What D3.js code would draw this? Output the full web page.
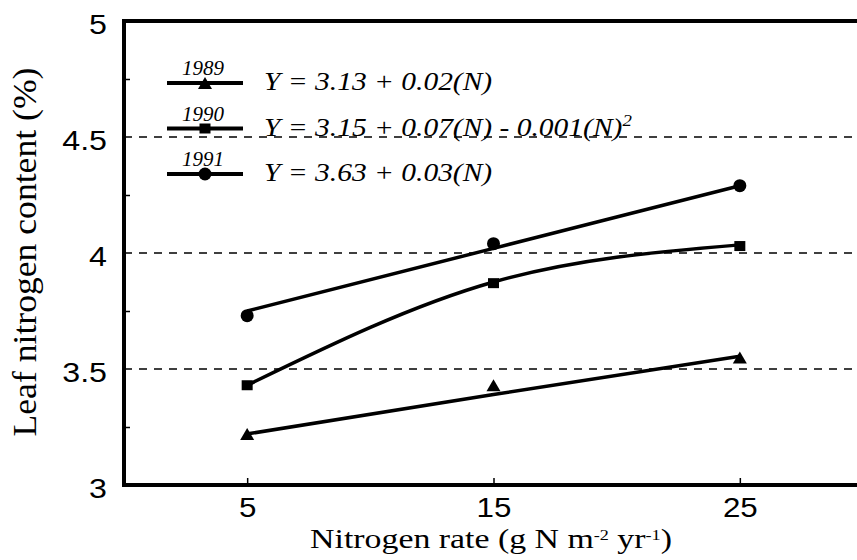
<!DOCTYPE html>
<html>
<head>
<meta charset="utf-8">
<script src="https://cdn.jsdelivr.net/npm/d3@7"></script>
<style>
  body { margin: 0; background: #fff; }
  svg { display: block; }
</style>
</head>
<body>
<div id="chart"></div>
<script>
// Nitrogen rate treatments (g N m-2 yr-1)
const rates = [5, 15, 25];
const years = ['1989', '1990', '1991'];
const symbols = ['triangle', 'square', 'circle'];

const obs1989 = [3.22, 3.43, 3.55];
const obs1990 = [3.43, 3.87, 4.03];
const obs1991 = [3.73, 4.04, 4.29];

// Fitted curves as drawn
const fit1989 = [3.22, 3.39, 3.555];
const fit1990 = [3.43, 3.875, 4.035];
const fit1991 = [3.75, 4.02, 4.29];

const equations = ['Y = 3.13 + 0.02(N)', 'Y = 3.15 + 0.07(N) - 0.001(N)', 'Y = 3.63 + 0.03(N)'];
const eqSuper = ['', '2', ''];

const yLabelTicks = [3, 3.5, 4, 4.5, 5];
const yMinorTicks = [3.25, 3.75, 4.25, 4.75];
const gridValues = [3.5, 4, 4.5];
const xTicks = [5, 15, 25];

const W = 857, H = 560;
const serif = "'Liberation Serif', 'Times New Roman', serif";
const sans = "'Liberation Sans', Arial, sans-serif";

const x = d3.scaleLinear().domain([0, 30]).range([124, 863]);
const y = d3.scaleLinear().domain([3, 5]).range([485, 21]);

const svg = d3.select('#chart').append('svg')
  .attr('width', W)
  .attr('height', H);

const series = years.map((yr, i) => ({
  year: yr,
  symbol: symbols[i],
  obs: [obs1989, obs1990, obs1991][i],
  fit: [fit1989, fit1990, fit1991][i],
  eq: equations[i],
  sup: eqSuper[i]
}));

// marker shapes (slightly wide, like the scanned figure)
function marker(type) {
  if (type === 'triangle') return 'M-7,6L7,6L0,-6Z';
  if (type === 'square') return 'M-5.5,-5L5.5,-5L5.5,5L-5.5,5Z';
  return 'M-6.5,0A6.5,6.5 0 1,0 6.5,0A6.5,6.5 0 1,0 -6.5,0Z';
}

// dashed reference lines
svg.append('g')
  .selectAll('line')
  .data(gridValues)
  .join('line')
  .attr('x1', x(0))
  .attr('x2', W)
  .attr('y1', d => y(d))
  .attr('y2', d => y(d))
  .attr('stroke', '#000')
  .attr('stroke-width', 1.5)
  .attr('stroke-dasharray', '8,7');

// fitted curves
const line = d3.line()
  .x((d, i) => x(rates[i]))
  .y(d => y(d))
  .curve(d3.curveNatural);

svg.append('g')
  .selectAll('path')
  .data(series)
  .join('path')
  .attr('d', d => line(d.fit))
  .attr('fill', 'none')
  .attr('stroke', '#000')
  .attr('stroke-width', 3.5);

// observed points
series.forEach(s => {
  svg.append('g')
    .selectAll('path')
    .data(s.obs)
    .join('path')
    .attr('transform', (d, i) => `translate(${x(rates[i])},${y(d)})`)
    .attr('d', marker(s.symbol))
    .attr('fill', '#000');
});

// legend
const legendY0 = 83, legendStep = 45.5;
const legend = svg.append('g');
series.forEach((s, i) => {
  const ly = legendY0 + i * legendStep;
  legend.append('line')
    .attr('x1', 167).attr('x2', 243)
    .attr('y1', ly).attr('y2', ly)
    .attr('stroke', '#000')
    .attr('stroke-width', 4);
  legend.append('path')
    .attr('transform', `translate(205,${ly})`)
    .attr('d', marker(s.symbol))
    .attr('fill', '#000');
  legend.append('text')
    .attr('transform', `translate(203,${ly - 8}) scale(1.05,1)`)
    .attr('text-anchor', 'middle')
    .style('font-family', serif)
    .style('font-style', 'italic')
    .style('font-size', '20px')
    .text(s.year);
  const t = legend.append('text')
    .attr('transform', `translate(264,${ly + 7}) scale(1.18,1)`)
    .style('font-family', serif)
    .style('font-style', 'italic')
    .style('font-size', '25px')
    .text(s.eq);
  if (s.sup) {
    t.append('tspan')
      .attr('baseline-shift', 'super')
      .style('font-size', '16px')
      .text(s.sup);
  }
});

// minor ticks on y axis (pointing inward)
svg.append('g')
  .attr('transform', `translate(${x(0)},0)`)
  .call(d3.axisLeft(y).tickValues(yMinorTicks).tickSize(-6).tickFormat(''))
  .call(g => g.select('.domain').remove())
  .call(g => g.selectAll('line').attr('stroke-width', 1.5));

// y tick labels
const ySx = 1.15;
svg.append('g')
  .attr('transform', `translate(107,0)`)
  .call(d3.axisLeft(y).tickValues(yLabelTicks).tickSize(0).tickPadding(0)
    .tickFormat(d => String(d)))
  .call(g => g.select('.domain').remove())
  .call(g => g.selectAll('text')
    .attr('x', 0)
    .attr('dy', '0.45em')
    .attr('transform', `scale(${ySx},1)`)
    .attr('fill', '#000')
    .style('font-family', sans)
    .style('font-size', '28px'));

// x axis ticks (inward) and labels
svg.append('g')
  .attr('transform', `translate(0,${y(3)})`)
  .call(d3.axisBottom(x).tickValues(xTicks).tickSize(-7).tickPadding(0)
    .tickFormat(d3.format('d')))
  .call(g => g.select('.domain').remove())
  .call(g => g.selectAll('line').attr('stroke-width', 1.5))
  .call(g => g.selectAll('text')
    .attr('y', 32)
    .attr('dy', 0)
    .attr('transform', `scale(1.12,1)`)
    .attr('fill', '#000')
    .style('font-family', sans)
    .style('font-size', '28px'));

// frame: left axis, bottom axis, top border
const frame = svg.append('g')
  .attr('stroke', '#000')
  .attr('stroke-width', 4)
  .attr('stroke-linecap', 'square');
frame.append('line').attr('x1', x(0)).attr('x2', x(0)).attr('y1', y(5)).attr('y2', y(3));
frame.append('line').attr('x1', x(0)).attr('x2', W).attr('y1', y(3)).attr('y2', y(3));
frame.append('line').attr('x1', x(0)).attr('x2', W).attr('y1', y(5)).attr('y2', y(5));

// x axis title
const xTitleG = svg.append('g');
const xTitle = xTitleG.append('text')
  .attr('text-anchor', 'middle')
  .style('font-family', serif)
  .style('font-size', '28px');
xTitle.append('tspan').text('Nitrogen rate (g N m');
xTitle.append('tspan').attr('baseline-shift', 'super').style('font-size', '15px').text('-2');
xTitle.append('tspan').text(' yr');
xTitle.append('tspan').attr('baseline-shift', 'super').style('font-size', '15px').text('-1');
xTitle.append('tspan').text(')');
const xw = xTitle.node().getComputedTextLength();
xTitleG.attr('transform', `translate(491,548) scale(${362 / xw},1)`);

// y axis title
const yTitleG = svg.append('g');
const yTitle = yTitleG.append('text')
  .attr('text-anchor', 'middle')
  .style('font-family', serif)
  .style('font-size', '33px')
  .text('Leaf nitrogen content (%)');
const yw = yTitle.node().getComputedTextLength();
yTitleG.attr('transform', `translate(36,252) rotate(-90) scale(${369 / yw},1)`);
</script>
</body>
</html>
